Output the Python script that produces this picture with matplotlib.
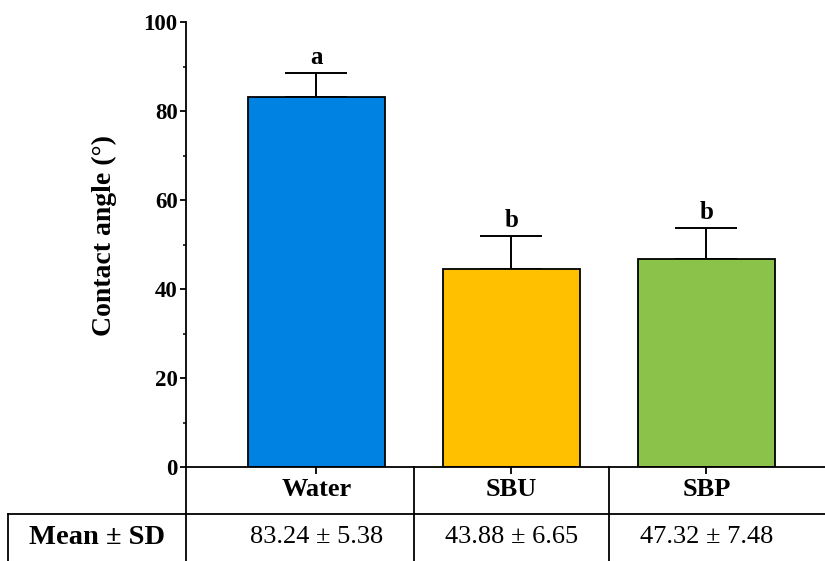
import matplotlib
matplotlib.use("Agg")
import matplotlib.pyplot as plt
import matplotlib.transforms as mtransforms
from matplotlib.lines import Line2D
from matplotlib.ticker import MultipleLocator

plt.rcParams['font.family'] = ['Liberation Serif', 'DejaVu Serif']

# data
groups = ['Water', 'SBU', 'SBP']
means = [83.2, 44.6, 46.7]
sds = [5.4, 7.4, 7.1]
letters = ['a', 'b', 'b']
table_text = ['83.24 \u00b1 5.38', '43.88 \u00b1 6.65', '47.32 \u00b1 7.48']
colors = ['#0082E2', '#FFC000', '#8BC34A']

W, H = 825, 561
fig = plt.figure(figsize=(W / 100, H / 100), dpi=100)
ax_left, ax_right, ax_top, ax_bot = 186, 825, 22, 467
ax = fig.add_axes([ax_left / W, (H - ax_bot) / H,
                   (ax_right - ax_left) / W, (ax_bot - ax_top) / H])

x = list(range(len(groups)))
ax.bar(x, means, width=0.70, color=colors, edgecolor='black', linewidth=1.3, zorder=2)
ax.errorbar(x, means, yerr=[[0] * len(sds), sds], fmt='none', ecolor='black',
            elinewidth=1.4, capsize=22.5, capthick=1.4, zorder=1)

for xi, m, s, lab in zip(x, means, sds, letters):
    ax.annotate(lab, (xi, m + s), xytext=(0, 6), textcoords='offset points',
                ha='center', va='baseline', fontsize=18, fontweight='bold')

ax.set_xlim(-0.669, 2.608)
ax.set_ylim(0, 100)
ax.spines['top'].set_visible(False)
ax.spines['right'].set_visible(False)
ax.spines['left'].set_linewidth(1.3)
ax.spines['bottom'].set_linewidth(1.3)
ax.yaxis.set_major_locator(MultipleLocator(20))
ax.yaxis.set_minor_locator(MultipleLocator(10))
ax.tick_params(axis='y', which='major', length=4, width=1.3, labelsize=16.5, pad=2)
ax.tick_params(axis='y', which='minor', length=2.5, width=1.1)
for t in ax.get_yticklabels():
    t.set_fontweight('bold')
ax.set_xticks(x)
ax.set_xticklabels([])
ax.tick_params(axis='x', which='major', length=5, width=1.3)

fig.text(104 / W, 1 - 235 / H, 'Contact angle (\u00b0)', rotation=90, ha='center',
         va='center', fontsize=20, fontweight='bold')

# table under the axis
blend = mtransforms.blended_transform_factory(ax.transData, ax.transAxes)
row1 = -(490 - ax_bot) / (ax_bot - ax_top)
row2 = -(537 - ax_bot) / (ax_bot - ax_top)
for xi, g, t in zip(x, groups, table_text):
    ax.text(xi, row1, g, transform=blend, ha='center', va='center',
            fontsize=19, fontweight='bold', clip_on=False)
    ax.text(xi, row2, t, transform=blend, ha='center', va='center',
            fontsize=19, clip_on=False)
for xs in [0.5, 1.5]:
    ax.plot([xs, xs], [0, -0.25], transform=blend, color='black', lw=1.3, clip_on=False)

fig.text(97 / W, 1 - 537 / H, 'Mean \u00b1 SD', ha='center', va='center',
         fontsize=20.5, fontweight='bold')
lw = 1.3
fig.add_artist(Line2D([8 / W, 1], [1 - 514 / H] * 2, color='black', lw=lw))
fig.add_artist(Line2D([8 / W] * 2, [1 - 514 / H, 0], color='black', lw=lw))
fig.add_artist(Line2D([ax_left / W] * 2, [1 - ax_bot / H, 0], color='black', lw=lw))

fig.savefig('out.png', dpi=100)
